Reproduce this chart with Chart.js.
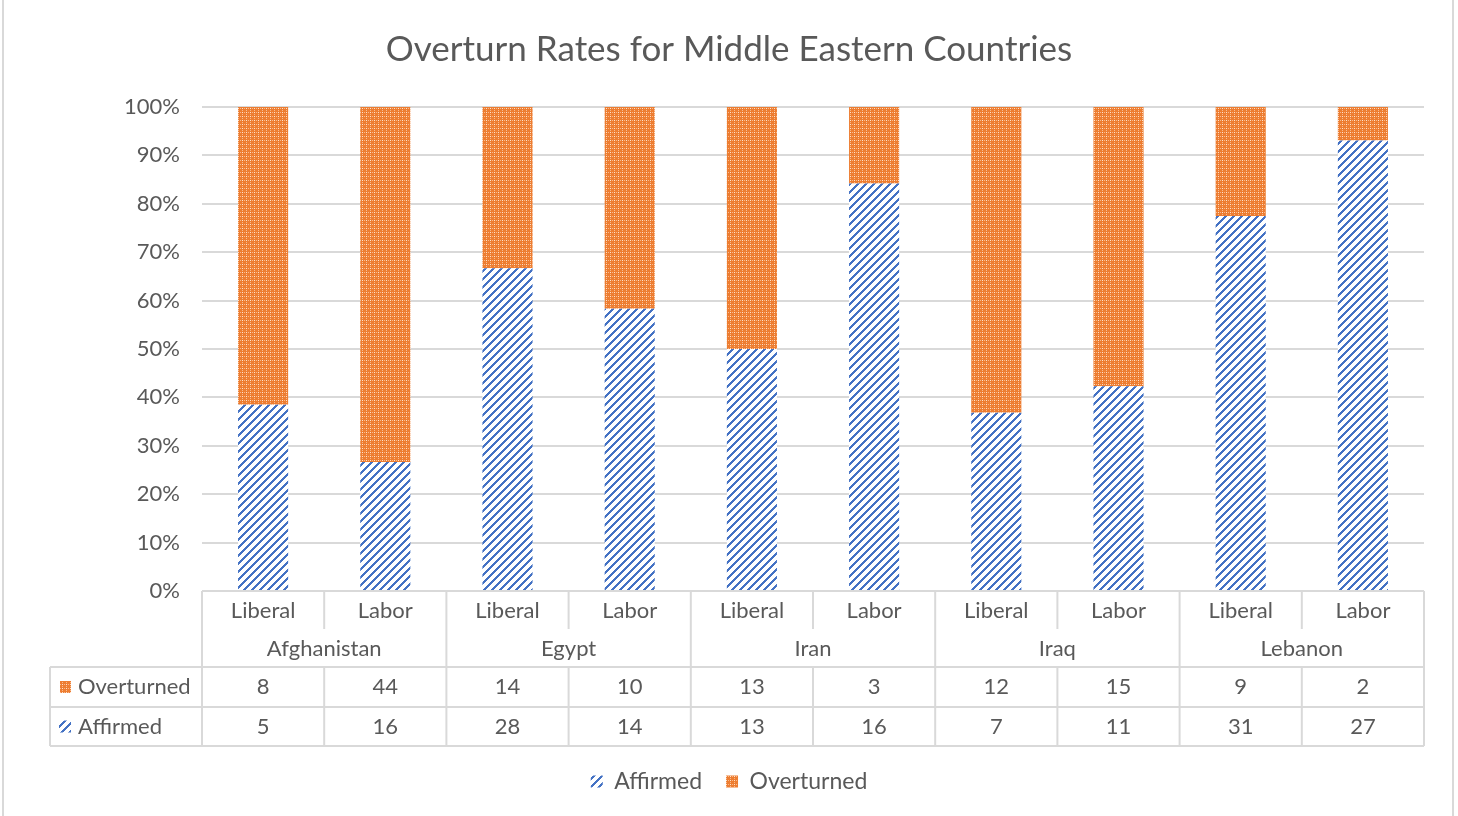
<!DOCTYPE html>
<html lang="en">
<head>
  <meta charset="UTF-8" />
  <title>Overturn Rates for Middle Eastern Countries</title>
  <script src="https://cdn.jsdelivr.net/npm/chart.js"></script>
  <style>
    body { margin:0; background:white; }
    #wrap { width:1458px; height:816px; }
  </style>
</head>
<body>
  <div id="wrap"><canvas id="overturnChart" width="1458" height="816"></canvas></div>

  <script>
    const countries = ["Afghanistan", "Egypt", "Iran", "Iraq", "Lebanon"];
    const parties = ["Liberal", "Labor"];
    const overturned = [8, 44, 14, 10, 13, 3, 12, 15, 9, 2];
    const affirmed = [5, 16, 28, 14, 13, 16, 7, 11, 31, 27];

    const BLUE = "#4472C4", ORANGE = "#ED7D31", TEXT = "#595959", LINE = "#D9D9D9";
    const FONT = "Lato, 'Open Sans', sans-serif";
    const FS = 22;

    // category labels: one per party within each country
    const labels = [];
    countries.forEach(c => parties.forEach(p => labels.push(p + " " + c)));

    // 100% stacked shares
    const totals = affirmed.map((a, i) => a + overturned[i]);
    const affPct = affirmed.map((a, i) => a / totals[i] * 100);
    const ovPct = overturned.map((o, i) => o / totals[i] * 100);

    function makePattern(size, paint) {
      const c = document.createElement("canvas");
      c.width = size; c.height = size;
      const g = c.getContext("2d");
      for (let y = 0; y < size; y++) {
        for (let x = 0; x < size; x++) {
          g.fillStyle = paint(x, y);
          g.fillRect(x, y, 1, 1);
        }
      }
      return g.createPattern(c, "repeat");
    }
    const hatchBlue = makePattern(8, (x, y) => ((x + y) % 8) < 3 ? BLUE : "#ffffff");
    // orange with a light dotted grid
    const dotOrange = makePattern(4, (x, y) => {
      if (x === 2 && y === 0) return "#FDE3CF";
      if (x === 2 && y === 2) return "#F8B98B";
      if (y === 0 && x === 0) return "#F8B98B";
      return ORANGE;
    });

    const tablePlugin = {
      id: "dataTable",
      afterDraw(chart) {
        const ctx = chart.ctx;
        const x = chart.scales.x;
        const area = chart.chartArea;
        const step = x.getPixelForValue(1) - x.getPixelForValue(0);
        const left = x.getPixelForValue(0) - step / 2;
        const right = x.getPixelForValue(labels.length - 1) + step / 2;
        const y0 = area.bottom, y1 = y0 + 38, y2 = y0 + 76, y3 = y0 + 116, y4 = y0 + 155;
        const tableLeft = 50;

        ctx.save();
        ctx.strokeStyle = LINE;
        ctx.lineWidth = 2;
        const line = (ax, ay, bx, by) => { ctx.beginPath(); ctx.moveTo(ax, ay); ctx.lineTo(bx, by); ctx.stroke(); };

        // outer frame of chart
        line(3, 0, 3, chart.height);
        line(1453, 0, 1453, chart.height);

        // horizontal rules
        line(tableLeft, y2, right, y2);
        line(tableLeft, y3, right, y3);
        line(tableLeft, y4, right, y4);
        // vertical rules
        line(tableLeft, y2, tableLeft, y4);
        line(left, y0, left, y4);
        countries.forEach((c, ci) => {
          const gx = left + step * parties.length * (ci + 1);
          line(gx, y0, gx, y4);
          for (let p = 1; p < parties.length; p++) {
            const sx = left + step * (ci * parties.length + p);
            line(sx, y0, sx, y1);
            line(sx, y2, sx, y4);
          }
        });

        ctx.fillStyle = TEXT;
        ctx.font = FS + "px " + FONT;
        ctx.textAlign = "center";
        ctx.textBaseline = "middle";
        labels.forEach((l, i) => {
          const cx = x.getPixelForValue(i);
          ctx.fillText(parties[i % parties.length], cx, (y0 + y1) / 2 + 1);
          ctx.fillText(String(overturned[i]), cx, (y2 + y3) / 2);
          ctx.fillText(String(affirmed[i]), cx, (y3 + y4) / 2);
        });
        countries.forEach((c, ci) => {
          const cx = left + step * parties.length * (ci + 0.5);
          ctx.fillText(c, cx, (y1 + y2) / 2 + 1);
        });

        // row headers with legend keys
        ctx.textAlign = "left";
        ctx.fillStyle = dotOrange;
        ctx.fillRect(60, (y2 + y3) / 2 - 6, 11, 12);
        ctx.fillStyle = hatchBlue;
        ctx.fillRect(59, (y3 + y4) / 2 - 6, 12, 12);
        ctx.fillStyle = TEXT;
        ctx.fillText("Overturned", 78, (y2 + y3) / 2);
        ctx.fillText("Affirmed", 78, (y3 + y4) / 2);
        ctx.restore();
      }
    };

    new Chart(document.getElementById("overturnChart"), {
      type: "bar",
      data: {
        labels: labels,
        datasets: [
          { label: "Affirmed", data: affPct, backgroundColor: hatchBlue, barPercentage: 0.82, categoryPercentage: 0.5 },
          { label: "Overturned", data: ovPct, backgroundColor: dotOrange, barPercentage: 0.82, categoryPercentage: 0.5 }
        ]
      },
      options: {
        responsive: false,
        animation: false,
        layout: { padding: { top: 0, right: 0, bottom: 13, left: 0 } },
        plugins: {
          title: {
            display: true,
            text: "Overturn Rates for Middle Eastern Countries",
            color: TEXT,
            font: { family: FONT, size: 35, weight: "normal" },
            padding: { top: 29, bottom: 36 }
          },
          legend: {
            position: "bottom",
            labels: {
              color: TEXT,
              font: { family: FONT, size: 23 },
              boxWidth: 12,
              boxHeight: 12,
              padding: 24
            }
          },
          tooltip: { enabled: false }
        },
        scales: {
          x: {
            stacked: true,
            grid: { display: false },
            border: { display: false },
            ticks: { display: false },
            afterFit(axis) { axis.height = 155; }
          },
          y: {
            stacked: true,
            min: 0,
            max: 100,
            ticks: {
              stepSize: 10,
              color: TEXT,
              padding: 22,
              font: { family: FONT, size: 22 },
              callback: v => v + "%"
            },
            grid: { color: LINE, lineWidth: 2, drawTicks: false },
            border: { display: false },
            afterFit(axis) { axis.width = 202; }
          },
          // empty right margin so the title and legend centre on the whole canvas
          yRight: {
            position: "right",
            grid: { display: false },
            border: { display: false },
            ticks: { display: false },
            afterFit(axis) { axis.width = 34; }
          }
        }
      },
      plugins: [tablePlugin]
    });
  </script>
</body>
</html>
